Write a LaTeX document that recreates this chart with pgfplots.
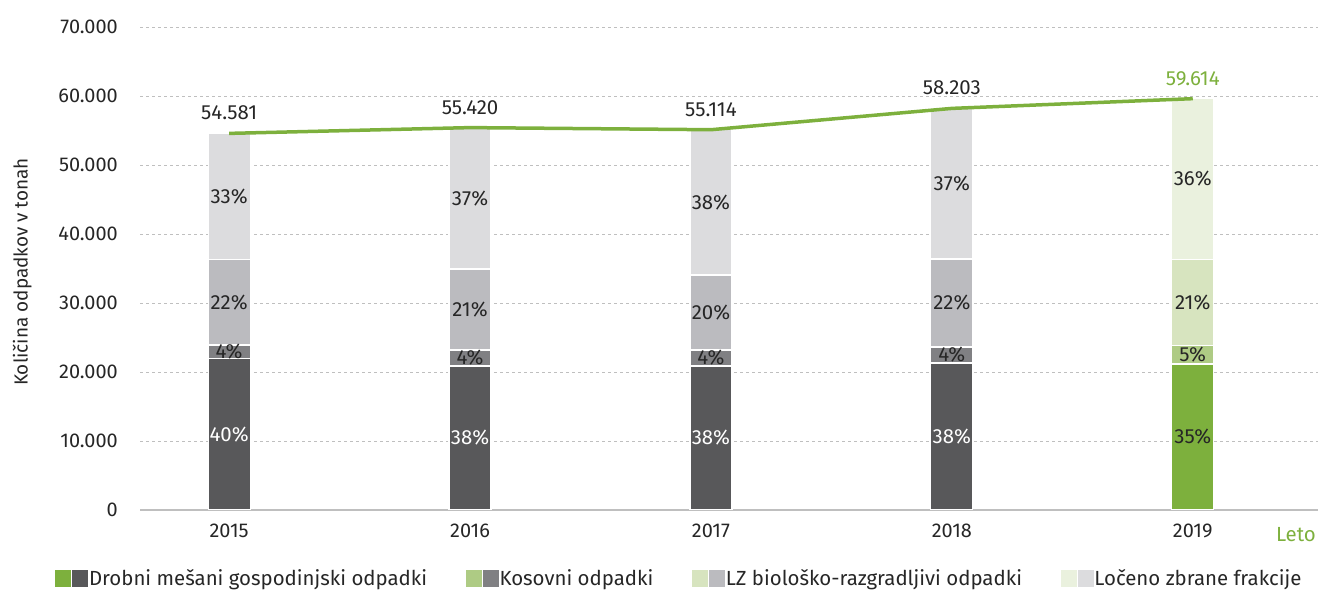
\documentclass[border=0pt]{standalone}
\usepackage{pgfplots}
\pgfplotsset{compat=1.18}
\usepackage{fontspec}
\setmainfont{Fira Sans}
\definecolor{dgray}{HTML}{58585A}
\definecolor{mgray}{HTML}{808083}
\definecolor{lgray}{HTML}{BBBBBF}
\definecolor{vlgray}{HTML}{DCDCDE}
\definecolor{dgreen}{HTML}{7DB03D}
\definecolor{mgreen}{HTML}{AECB84}
\definecolor{lgreen}{HTML}{D7E4BF}
\definecolor{vlgreen}{HTML}{EAF1DE}
\definecolor{txt}{HTML}{262626}
\definecolor{gridc}{HTML}{BFBFBF}
\newcommand{\lbl}{\fontsize{20.5}{24}\selectfont}
\newcommand{\tck}{\fontsize{20}{24}\selectfont}
\pgfplotsset{
  base/.style={scale only axis, width=1178bp, height=483bp,
    xmin=-0.37, xmax=4.52, ymin=0, ymax=70000,
    at={(140bp,80bp)}, anchor=south west},
  hidden/.style={base, axis lines=none, xtick=\empty, ytick=\empty},
  segbar/.style={fill=#1, draw=white, line width=1.2bp, bar width=42bp},
}
\begin{document}
\begin{tikzpicture}
\useasboundingbox (0,0) rectangle (1319bp,590bp);
% axis 1: frame, grid, grey bars 2015-2018
\begin{axis}[base, ybar stacked, bar width=42bp,
  axis x line=bottom, axis y line=left,
  y axis line style={draw=none},
  x axis line style={draw=gridc, line width=2bp, -},
  xtick={0,1,2,3,4}, xticklabels={2015,2016,2017,2018,2019},
  ytick={0,10000,...,70000}, major tick length=0,
  scaled y ticks=false,
  ymajorgrids, grid style={gridc, dash pattern=on 3bp off 3bp, line width=0.8bp},
  tick label style={font=\tck, text=txt},
  yticklabel style={anchor=east, inner sep=0pt, xshift=-22bp, /pgf/number format/1000 sep={.}},
  xticklabel style={inner sep=0pt, yshift=-14bp},
  /pgf/number format/assume math mode=true,
  ylabel={Količina odpadkov v tonah},
  ylabel style={at={(axis description cs:-0.1, 0.4928)}, anchor=center, font=\fontsize{19}{22}\selectfont, text=txt},
]
\addplot[segbar=dgray]  coordinates {(0,22000) (1,20870) (2,20870) (3,21300)};
\addplot[segbar=mgray]  coordinates {(0,1900)  (1,2320)  (2,2320)  (3,2320)};
\addplot[segbar=lgray]  coordinates {(0,12400) (1,11740) (2,10870) (3,12760)};
\addplot[segbar=vlgray] coordinates {(0,18281) (1,20490) (2,21054) (3,21823)};
\end{axis}
% axis 2: green bar 2019
\begin{axis}[hidden, ybar stacked, bar width=42bp]
\addplot[segbar=dgreen]  coordinates {(4,21160)};
\addplot[segbar=mgreen]  coordinates {(4,2640)};
\addplot[segbar=lgreen]  coordinates {(4,12530)};
\addplot[segbar=vlgreen] coordinates {(4,23284)};
\end{axis}
% axis 3: line, labels, legend
\begin{axis}[hidden, clip=false,
  legend columns=4, legend cell align=left,
  legend style={at={(axis description cs:-0.0722,-0.1408)}, anchor=west,
    draw=none, fill=none, inner sep=0pt, font=\lbl, text=txt,
    /tikz/every even column/.append style={column sep=37bp},
    nodes={inner sep=1.5bp}},
]
\addlegendimage{legend image code/.code={\fill[dgreen] (0bp,-8bp) rectangle (15bp,8bp); \fill[dgray] (17bp,-8bp) rectangle (32bp,8bp);}}
\addlegendentry{Drobni mešani gospodinjski odpadki}
\addlegendimage{legend image code/.code={\fill[mgreen] (0bp,-8bp) rectangle (15bp,8bp); \fill[mgray] (17bp,-8bp) rectangle (32bp,8bp);}}
\addlegendentry{Kosovni odpadki}
\addlegendimage{legend image code/.code={\fill[lgreen] (0bp,-8bp) rectangle (15bp,8bp); \fill[lgray] (17bp,-8bp) rectangle (32bp,8bp);}}
\addlegendentry{LZ biološko-razgradljivi odpadki}
\addlegendimage{legend image code/.code={\fill[vlgreen] (0bp,-8bp) rectangle (15bp,8bp); \fill[vlgray] (17bp,-8bp) rectangle (32bp,8bp);}}
\addlegendentry{Ločeno zbrane frakcije}
\addplot[dgreen, line width=3.5bp, forget plot] coordinates {(0,54581) (1,55420) (2,55114) (3,58203) (4,59614)};
% white percentage labels
\addplot[draw=none, forget plot, nodes near coords={\pgfplotspointmeta\%}, point meta=explicit symbolic,
  nodes near coords style={anchor=center, font=\lbl, text=white}]
  table[meta=lab] {
x y lab
0 11000 40
1 10435 38
2 10435 38
3 10650 38
};
% dark percentage labels
\addplot[draw=none, forget plot, nodes near coords={\pgfplotspointmeta\%}, point meta=explicit symbolic,
  nodes near coords style={anchor=center, font=\lbl, text=txt}]
  table[meta=lab] {
x y lab
0 22950 4
0 30100 22
0 45440 33
1 22030 4
1 29060 21
1 45175 37
2 22030 4
2 28625 20
2 44587 38
3 22460 4
3 30000 22
3 47290 37
4 10580 35
4 22480 5
4 30065 21
4 47972 36
};
% totals
\addplot[draw=none, forget plot, nodes near coords={\pgfplotspointmeta}, point meta=explicit symbolic,
  nodes near coords style={anchor=south, inner sep=0pt, yshift=13bp, font=\lbl, text=txt}]
  table[meta=lab] {
x y lab
0 54581 54.581
1 55420 55.420
2 55114 55.114
3 58203 58.203
};
\addplot[draw=none, forget plot, nodes near coords={\pgfplotspointmeta}, point meta=explicit symbolic,
  nodes near coords style={anchor=south, inner sep=0pt, yshift=13bp, font=\lbl, text=dgreen}]
  table[meta=lab] {
x y lab
4 59614 59.614
};
\node[anchor=base east, inner sep=0pt, font=\lbl, text=dgreen] at (rel axis cs:1,0) [yshift=-31bp, xshift=-2bp] {Leto};
\end{axis}
\end{tikzpicture}
\end{document}
